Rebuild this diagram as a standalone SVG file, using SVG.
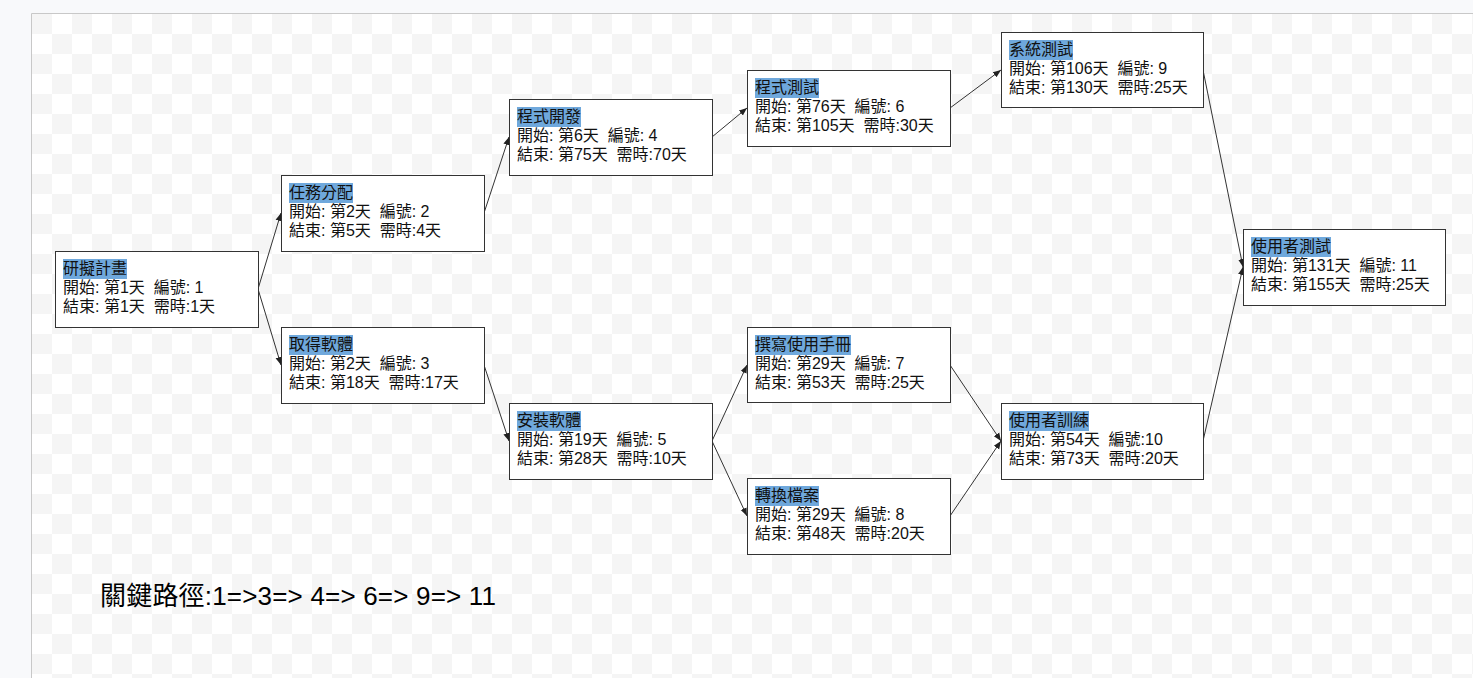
<svg xmlns="http://www.w3.org/2000/svg" width="1473" height="678" viewBox="0 0 1473 678">
  <style>
    .box { fill: #ffffff; stroke: #333333; stroke-width: 1; }
    .hl { fill: #6fa8dc; }
    .t { font-family: "Liberation Sans", "Noto Sans CJK TC", sans-serif; font-size: 16px; fill: #111111; white-space: pre; }
    .edge { stroke: #333333; stroke-width: 1; fill: none; marker-end: url(#arrow); }
    .path { font-family: "Liberation Sans", "Noto Sans CJK TC", sans-serif; font-size: 26px; fill: #000000; white-space: pre; }
  </style>
  <defs>
    <pattern id="checker" x="32" y="14" width="40" height="40" patternUnits="userSpaceOnUse">
      <rect width="40" height="40" fill="#ffffff"/>
      <rect width="20" height="20" fill="#f5f5f5"/>
      <rect x="20" y="20" width="20" height="20" fill="#f5f5f5"/>
    </pattern>
    <marker id="arrow" viewBox="0 0 10 10" refX="10" refY="5" markerWidth="8" markerHeight="8" markerUnits="userSpaceOnUse" orient="auto">
      <path d="M0,1 L10,5 L0,9 Z" fill="#222222"/>
    </marker>
  </defs>

  <!-- page and canvas -->
  <rect width="1473" height="678" fill="#f8f9fb"/>
  <rect x="32" y="14" width="1441" height="664" fill="url(#checker)"/>
  <path d="M31.5,678 V13.5 H1473" stroke="#c8c8c8" stroke-width="1" fill="none"/>

  <!-- connectors -->
  <g id="connectors">
    <line class="edge" x1="258" y1="289" x2="281" y2="213"/>
    <line class="edge" x1="258" y1="289" x2="281" y2="365"/>
    <line class="edge" x1="484" y1="213" x2="509" y2="137"/>
    <line class="edge" x1="484" y1="365" x2="509" y2="441"/>
    <line class="edge" x1="712" y1="137" x2="747" y2="108"/>
    <line class="edge" x1="712" y1="441" x2="747" y2="365"/>
    <line class="edge" x1="712" y1="441" x2="747" y2="516"/>
    <line class="edge" x1="950" y1="108" x2="1001" y2="70"/>
    <line class="edge" x1="950" y1="365" x2="1001" y2="441"/>
    <line class="edge" x1="950" y1="516" x2="1001" y2="441"/>
    <line class="edge" x1="1203" y1="70" x2="1243" y2="267"/>
    <line class="edge" x1="1203" y1="441" x2="1243" y2="267"/>
  </g>

  <!-- task 1 -->
  <g id="task1" transform="translate(55,251)">
    <rect class="box" x="0.5" y="0.5" width="203" height="76"/>
    <rect class="hl" x="8" y="8" width="64" height="20"/>
    <text class="t" x="8" y="23">研擬計畫</text>
    <text class="t" x="8" y="42">開始: 第1天  編號: 1</text>
    <text class="t" x="8" y="61">結束: 第1天  需時:1天</text>
  </g>

  <!-- task 2 -->
  <g id="task2" transform="translate(281,175)">
    <rect class="box" x="0.5" y="0.5" width="203" height="76"/>
    <rect class="hl" x="8" y="8" width="64" height="20"/>
    <text class="t" x="8" y="23">任務分配</text>
    <text class="t" x="8" y="42">開始: 第2天  編號: 2</text>
    <text class="t" x="8" y="61">結束: 第5天  需時:4天</text>
  </g>

  <!-- task 3 -->
  <g id="task3" transform="translate(281,327)">
    <rect class="box" x="0.5" y="0.5" width="203" height="76"/>
    <rect class="hl" x="8" y="8" width="64" height="20"/>
    <text class="t" x="8" y="23">取得軟體</text>
    <text class="t" x="8" y="42">開始: 第2天  編號: 3</text>
    <text class="t" x="8" y="61">結束: 第18天  需時:17天</text>
  </g>

  <!-- task 4 -->
  <g id="task4" transform="translate(509,99)">
    <rect class="box" x="0.5" y="0.5" width="203" height="76"/>
    <rect class="hl" x="8" y="8" width="64" height="20"/>
    <text class="t" x="8" y="23">程式開發</text>
    <text class="t" x="8" y="42">開始: 第6天  編號: 4</text>
    <text class="t" x="8" y="61">結束: 第75天  需時:70天</text>
  </g>

  <!-- task 5 -->
  <g id="task5" transform="translate(509,403)">
    <rect class="box" x="0.5" y="0.5" width="203" height="76"/>
    <rect class="hl" x="8" y="8" width="64" height="20"/>
    <text class="t" x="8" y="23">安裝軟體</text>
    <text class="t" x="8" y="42">開始: 第19天  編號: 5</text>
    <text class="t" x="8" y="61">結束: 第28天  需時:10天</text>
  </g>

  <!-- task 6 -->
  <g id="task6" transform="translate(747,70)">
    <rect class="box" x="0.5" y="0.5" width="203" height="76"/>
    <rect class="hl" x="8" y="8" width="64" height="20"/>
    <text class="t" x="8" y="23">程式測試</text>
    <text class="t" x="8" y="42">開始: 第76天  編號: 6</text>
    <text class="t" x="8" y="61">結束: 第105天  需時:30天</text>
  </g>

  <!-- task 7 -->
  <g id="task7" transform="translate(747,327)">
    <rect class="box" x="0.5" y="0.5" width="203" height="75"/>
    <rect class="hl" x="8" y="8" width="96" height="20"/>
    <text class="t" x="8" y="23">撰寫使用手冊</text>
    <text class="t" x="8" y="42">開始: 第29天  編號: 7</text>
    <text class="t" x="8" y="61">結束: 第53天  需時:25天</text>
  </g>

  <!-- task 8 -->
  <g id="task8" transform="translate(747,478)">
    <rect class="box" x="0.5" y="0.5" width="203" height="76"/>
    <rect class="hl" x="8" y="8" width="64" height="20"/>
    <text class="t" x="8" y="23">轉換檔案</text>
    <text class="t" x="8" y="42">開始: 第29天  編號: 8</text>
    <text class="t" x="8" y="61">結束: 第48天  需時:20天</text>
  </g>

  <!-- task 9 -->
  <g id="task9" transform="translate(1001,32)">
    <rect class="box" x="0.5" y="0.5" width="202" height="75"/>
    <rect class="hl" x="8" y="8" width="64" height="20"/>
    <text class="t" x="8" y="23">系統測試</text>
    <text class="t" x="8" y="42">開始: 第106天  編號: 9</text>
    <text class="t" x="8" y="61">結束: 第130天  需時:25天</text>
  </g>

  <!-- task 10 -->
  <g id="task10" transform="translate(1001,403)">
    <rect class="box" x="0.5" y="0.5" width="202" height="76"/>
    <rect class="hl" x="8" y="8" width="80" height="20"/>
    <text class="t" x="8" y="23">使用者訓練</text>
    <text class="t" x="8" y="42">開始: 第54天  編號:10</text>
    <text class="t" x="8" y="61">結束: 第73天  需時:20天</text>
  </g>

  <!-- task 11 -->
  <g id="task11" transform="translate(1243,229)">
    <rect class="box" x="0.5" y="0.5" width="202" height="76"/>
    <rect class="hl" x="8" y="8" width="80" height="20"/>
    <text class="t" x="8" y="23">使用者測試</text>
    <text class="t" x="8" y="42">開始: 第131天  編號: 11</text>
    <text class="t" x="8" y="61">結束: 第155天  需時:25天</text>
  </g>

  <!-- critical path summary -->
  <text class="path" x="100" y="605" textLength="396" lengthAdjust="spacing">關鍵路徑:1=&gt;3=&gt; 4=&gt; 6=&gt; 9=&gt; 11</text>
</svg>
